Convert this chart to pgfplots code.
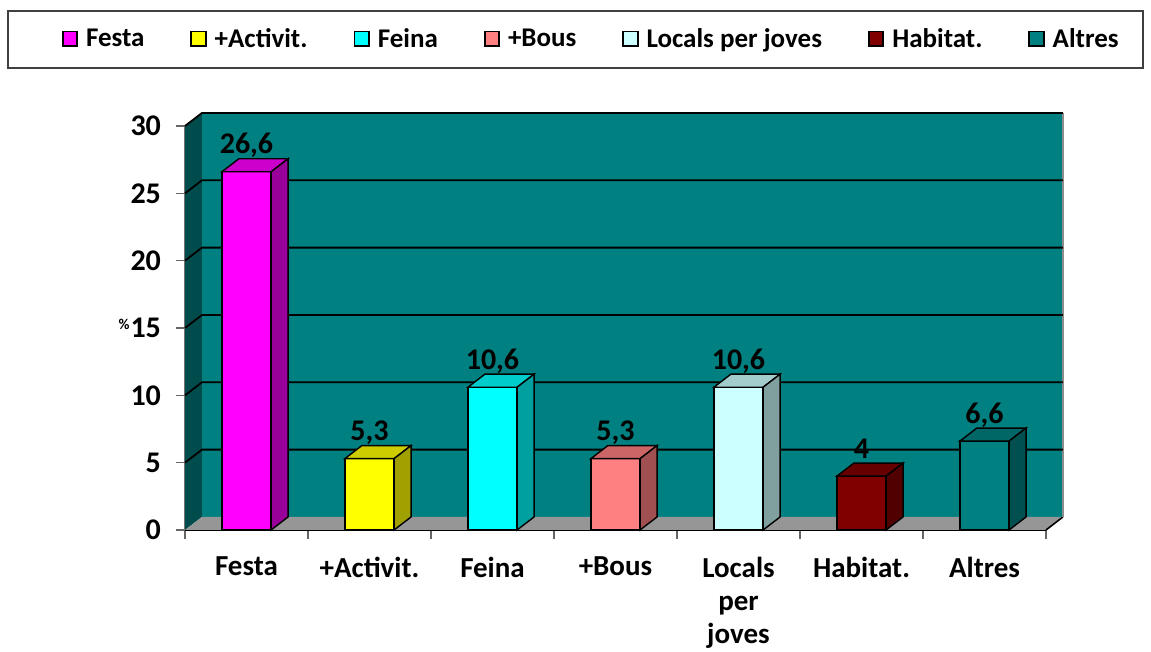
\documentclass[border=0pt]{standalone}
\usepackage{fontspec}
\setmainfont{Carlito}
\usepackage{pgfplots}
\pgfplotsset{compat=1.18}
\definecolor{festa}{HTML}{FF00FF}\definecolor{festaT}{HTML}{CC00CC}\definecolor{festaS}{HTML}{990099}
\definecolor{activ}{HTML}{FFFF00}\definecolor{activT}{HTML}{CCCC00}\definecolor{activS}{HTML}{A0A000}
\definecolor{feina}{HTML}{00FFFF}\definecolor{feinaT}{HTML}{00CCCC}\definecolor{feinaS}{HTML}{00A0A0}
\definecolor{bous}{HTML}{FF8080}\definecolor{bousT}{HTML}{CC6666}\definecolor{bousS}{HTML}{A05050}
\definecolor{locals}{HTML}{CCFFFF}\definecolor{localsT}{HTML}{A3CCCC}\definecolor{localsS}{HTML}{80A0A0}
\definecolor{habitat}{HTML}{800000}\definecolor{habitatT}{HTML}{660000}\definecolor{habitatS}{HTML}{500000}
\definecolor{altres}{HTML}{008080}\definecolor{altresT}{HTML}{006666}\definecolor{altresS}{HTML}{005050}
\definecolor{wall}{HTML}{008080}\definecolor{lwall}{HTML}{004C4C}\definecolor{floor}{HTML}{969696}
\pgfplotsset{
  frontbar/.style={ybar, bar width=0.4, bar shift=0pt, fill=#1, draw=black, line width=0.7pt,
    nodes near coords,
    every node near coord/.append style={anchor=base, yshift=9pt, font=\fontsize{15}{17}\selectfont\bfseries, black}},
  face/.style={fill=#1, draw=black, line width=0.7pt, forget plot},
}
\begin{document}
\begin{tikzpicture}
\path[use as bounding box] (0,0) rectangle (575.5pt,326pt);
\draw[black!75, line width=0.8pt] (4pt,292pt) rectangle (571.5pt,320.5pt);
\begin{axis}[
  at={(92.5pt,61pt)}, anchor=south west,
  width=430.5pt, height=202pt, scale only axis,
  xmin=0, xmax=7, ymin=0, ymax=30, clip=false,
  axis lines*=left,
  x axis line style={black, line width=0.8pt},
  y axis line style={black!55, line width=0.8pt},
  tick align=outside, major tick length=4.5pt,
  tick style={black!60, line width=0.8pt},
  ytick={0,5,...,30},
  xtick={0,1,...,7},
  xticklabels={Festa,+Activit.,Feina,+Bous,{Locals\\per\\joves},Habitat.,Altres},
  x tick label as interval,
  xticklabel style={font=\fontsize{14.5}{16.5}\selectfont\bfseries, align=center, yshift=-5.5pt},
  yticklabel style={font=\fontsize{15}{17}\selectfont\bfseries, xshift=-4pt},
  /pgf/number format/assume math mode=true,
  /pgf/number format/use comma,
  ylabel={\%},
  ylabel style={rotate=-90, at={(axis description cs:-0.0708,0.51)}, anchor=center, font=\fontsize{7.5}{9}\selectfont\bfseries},
  legend columns=7,
  legend style={at={(axis description cs:0.473,1.214)}, anchor=center, draw=none, fill=none,
    font=\fontsize{13.5}{15.5}\selectfont\bfseries,
    /tikz/every odd column/.append style={column sep=2pt},
    /tikz/every even column/.append style={column sep=21pt}},
  legend image code/.code={\draw[#1,draw=black,line width=0.9pt] (0pt,-3.2pt) rectangle (7.2pt,4pt);},
]
% walls and floor
\addplot[fill=wall, draw=none, forget plot] coordinates {(0.138,0.97)(7.138,0.97)(7.138,30.97)(0.138,30.97)} -- cycle;
\addplot[fill=lwall, draw=none, forget plot] coordinates {(0,0)(0.138,0.97)(0.138,30.97)(0,30)} -- cycle;
\addplot[fill=floor, draw=none, forget plot] coordinates {(0,0)(7,0)(7.138,0.97)(0.138,0.97)} -- cycle;
\addplot[black, line width=0.8pt, forget plot] coordinates {(7,0)(7.138,0.97)};
\addplot[black!45, line width=0.8pt, forget plot] coordinates {(7.138,0.97)(7.138,30.97)};
% gridlines
\addplot[black, line width=0.9pt, forget plot] coordinates {(0,5)(0.138,5.97)(7.138,5.97)};
\addplot[black, line width=0.9pt, forget plot] coordinates {(0,10)(0.138,10.97)(7.138,10.97)};
\addplot[black, line width=0.9pt, forget plot] coordinates {(0,15)(0.138,15.97)(7.138,15.97)};
\addplot[black, line width=0.9pt, forget plot] coordinates {(0,20)(0.138,20.97)(7.138,20.97)};
\addplot[black, line width=0.9pt, forget plot] coordinates {(0,25)(0.138,25.97)(7.138,25.97)};
\addplot[black, line width=0.9pt, forget plot] coordinates {(0,30)(0.138,30.97)(7.138,30.97)};
% front faces (legend entries)
\addplot[frontbar=festa] coordinates {(0.5,26.6)};
\addplot[frontbar=activ] coordinates {(1.5,5.3)};
\addplot[frontbar=feina] coordinates {(2.5,10.6)};
\addplot[frontbar=bous] coordinates {(3.5,5.3)};
\addplot[frontbar=locals] coordinates {(4.5,10.6)};
\addplot[frontbar=habitat] coordinates {(5.5,4)};
\addplot[frontbar=altres] coordinates {(6.5,6.6)};
% top and side faces
\addplot[face=festaT] coordinates {(0.3,26.6)(0.7,26.6)(0.838,27.57)(0.438,27.57)} -- cycle;
\addplot[face=festaS] coordinates {(0.7,0)(0.838,0.97)(0.838,27.57)(0.7,26.6)} -- cycle;
\addplot[face=activT] coordinates {(1.3,5.3)(1.7,5.3)(1.838,6.27)(1.438,6.27)} -- cycle;
\addplot[face=activS] coordinates {(1.7,0)(1.838,0.97)(1.838,6.27)(1.7,5.3)} -- cycle;
\addplot[face=feinaT] coordinates {(2.3,10.6)(2.7,10.6)(2.838,11.57)(2.438,11.57)} -- cycle;
\addplot[face=feinaS] coordinates {(2.7,0)(2.838,0.97)(2.838,11.57)(2.7,10.6)} -- cycle;
\addplot[face=bousT] coordinates {(3.3,5.3)(3.7,5.3)(3.838,6.27)(3.438,6.27)} -- cycle;
\addplot[face=bousS] coordinates {(3.7,0)(3.838,0.97)(3.838,6.27)(3.7,5.3)} -- cycle;
\addplot[face=localsT] coordinates {(4.3,10.6)(4.7,10.6)(4.838,11.57)(4.438,11.57)} -- cycle;
\addplot[face=localsS] coordinates {(4.7,0)(4.838,0.97)(4.838,11.57)(4.7,10.6)} -- cycle;
\addplot[face=habitatT] coordinates {(5.3,4)(5.7,4)(5.838,4.97)(5.438,4.97)} -- cycle;
\addplot[face=habitatS] coordinates {(5.7,0)(5.838,0.97)(5.838,4.97)(5.7,4)} -- cycle;
\addplot[face=altresT] coordinates {(6.3,6.6)(6.7,6.6)(6.838,7.57)(6.438,7.57)} -- cycle;
\addplot[face=altresS] coordinates {(6.7,0)(6.838,0.97)(6.838,7.57)(6.7,6.6)} -- cycle;
\legend{Festa,+Activit.,Feina,+Bous,Locals per joves,Habitat.,Altres}
\end{axis}
\end{tikzpicture}
\end{document}
